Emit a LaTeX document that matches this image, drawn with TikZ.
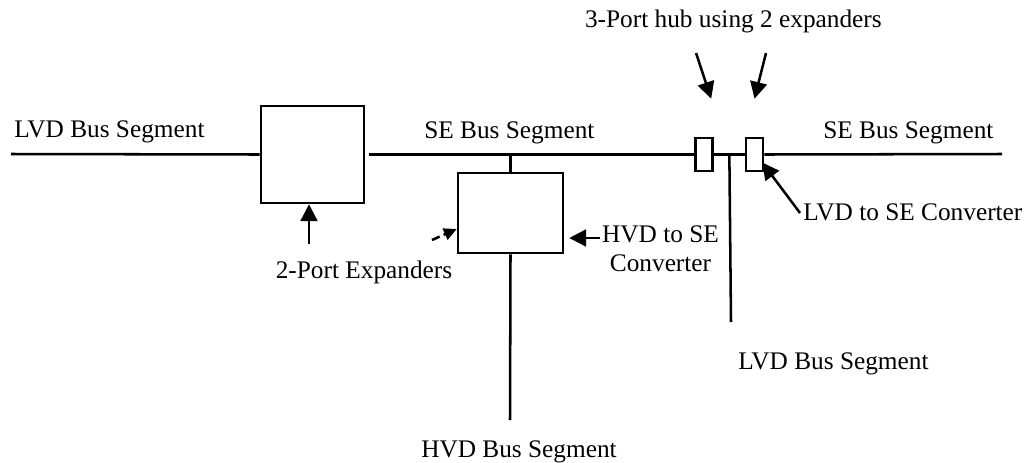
\documentclass[tikz,border=0pt]{standalone}
\usepackage{fontspec}
\setmainfont{Liberation Serif}
\usetikzlibrary{arrows.meta, positioning, calc}

\begin{document}
\begin{tikzpicture}[x=0.025cm, y=-0.025cm, line width=1.8pt,
    font=\fontsize{18}{21.3}\selectfont,
    unit/.style={draw, inner sep=0pt},
    tag/.style={inner sep=0pt},
    pointer/.style={-{Triangle[length=0.42cm, width=0.42cm]}},
    hint/.style={-{Triangle[length=0.32cm, width=0.3cm]}, dash pattern=on 6pt off 3pt}]
    \useasboundingbox (0,0) rectangle (1031,462);

    % Boxes
    \node (exp) [unit, minimum width=2.57cm, minimum height=2.425cm] at (312.4,154.5) {};
    \node (conv) [unit, minimum width=2.625cm, minimum height=2cm] at (510.5,213) {};
    \node (hubA) [unit, minimum width=0.425cm, minimum height=0.825cm] at (704.2,154.5) {};
    \node (hubB) [unit, minimum width=0.425cm, minimum height=0.825cm] at (754.5,154.5) {};

    % Labels
    \node (lvdL) [tag, anchor=base west] at (13,137) {LVD Bus Segment};
    \node (seM) [tag, anchor=base west] at (423,138) {SE Bus Segment};
    \node (seR) [tag, anchor=base west] at (822,138) {SE Bus Segment};
    \node (hubtxt) [tag, anchor=base east] at (883,27) {3-Port hub using 2 expanders};
    \node (exptxt) [tag, anchor=base] at (364,278) {2-Port Expanders};
    \node (hvdconv) [tag, anchor=north, align=center] at (660.5,224) {HVD to SE\\Converter};
    \node (lvdconv) [tag, anchor=base west] at (802,220) {LVD to SE Converter};
    \node (lvdB) [tag, anchor=base west] at (737,369) {LVD Bus Segment};
    \node (hvdB) [tag, anchor=base west] at (420,457) {HVD Bus Segment};

    % Bus ends
    \coordinate (busL) at (11,154);
    \coordinate (busR) at (1002,154);
    \coordinate (hvdEnd) at (510,420);
    \coordinate (lvdEnd) at (731,322);
    \coordinate (expTail) at (309,244);
    \coordinate (convTail) at (432,240);
    \coordinate (hubTailA) at (696,53);
    \coordinate (hubTailB) at (766,53);

    % Bus lines
    \draw (busL) -- (exp.west);
    \draw ($(exp.east)+(4,0)$) -- (hubA.west);
    \draw (hubA.east) -- (hubB.west);
    \draw (hubB.east) -- (busR);
    \draw (conv.north) -- (conv.north |- busL);
    \draw (conv.south) -- (hvdEnd);
    \draw ($(hubA.east)!0.5!(hubB.west)$) -- (lvdEnd);

    % Pointers
    \draw[pointer] (expTail) -- (expTail |- exp.south);
    \draw[hint] (convTail) -- ($(conv.west)+(0,16)$);
    \draw[pointer] ($(hvdconv.north west)+(-1,14)$) -- ($(conv.east)+(5,25)$);
    \draw[pointer] ($(lvdconv.base west)+(-2,-7)$) -- ($(hubB.east)+(-2,8)$);
    \draw[pointer] (hubTailA) -- ($(hubA.north)+(7,-38)$);
    \draw[pointer] (hubTailB) -- ($(hubB.north)+(0,-38)$);
\end{tikzpicture}
\end{document}
